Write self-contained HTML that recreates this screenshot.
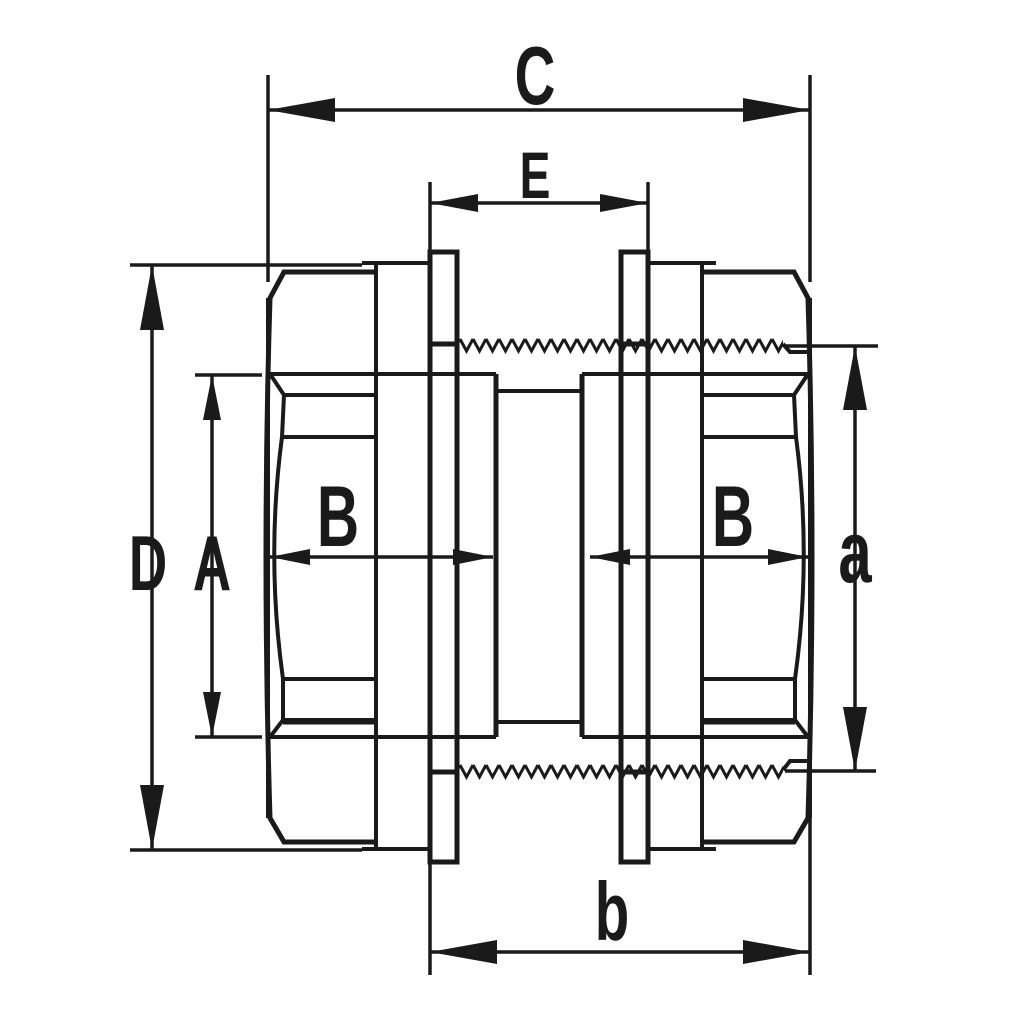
<!DOCTYPE html>
<html><head><meta charset="utf-8"><style>html,body{margin:0;padding:0;background:#fff}svg{display:block}</style></head>
<body>
<svg width="1024" height="1024" viewBox="0 0 1024 1024" xmlns="http://www.w3.org/2000/svg">
<defs>
<pattern id="zt" patternUnits="userSpaceOnUse" x="460" y="336" width="13" height="20">
<polyline points="0,3 6.5,15 13,3" fill="none" stroke="#1a1a1a" stroke-width="3"/>
</pattern>
<pattern id="zb" patternUnits="userSpaceOnUse" x="460" y="762" width="13" height="20">
<polyline points="0,3 6.5,15 13,3" fill="none" stroke="#1a1a1a" stroke-width="3"/>
</pattern>
<g id="half" fill="none" stroke="#1a1a1a" stroke-width="4">
<path d="M376,272 L284,272 L270,298 Q262,557 270,818 L284,842 L376,842" stroke-width="5"/>
<line x1="268" y1="298" x2="268" y2="818"/>
<line x1="268" y1="374" x2="496" y2="374"/>
<line x1="268" y1="737" x2="496" y2="737"/>
<path d="M270,374 L284,395 L376,395"/>
<path d="M284,395 L282,437 L376,437"/>
<path d="M282,437 Q266,557 283,679 L376,679"/>
<path d="M283,679 L283,720 L376,720" />
<line x1="283" y1="722" x2="376" y2="722" stroke-width="5"/>
<path d="M270,737 L283,720"/>
<path d="M362,263 L428,263 M376,263 L376,849 L428,849 M362,849 L376,849"/>
<rect x="430" y="252" width="27" height="610" stroke-width="5"/>
<path d="M430,344 L457,344 M430,772 L457,772" stroke-width="5"/>
<line x1="496" y1="374" x2="496" y2="737" stroke-width="5"/>
</g>
</defs>
<rect width="1024" height="1024" fill="#fff"/>
<use href="#half"/>
<use href="#half" transform="translate(1078,0) scale(-1,1)"/>
<g fill="none" stroke="#1a1a1a" stroke-width="4">
<line x1="496" y1="391" x2="582" y2="391"/>
<line x1="496" y1="722" x2="582" y2="722"/>
<path d="M783,344 L790,352 L808,352"/>
<path d="M783,770 L790,761 L808,761"/>
</g>
<rect x="457" y="336" width="326" height="20" fill="url(#zt)"/>
<rect x="457" y="762" width="326" height="20" fill="url(#zb)"/>
<g stroke="#1a1a1a" stroke-width="3.5" fill="none">
<line x1="268" y1="75" x2="268" y2="282"/><line x1="810" y1="75" x2="810" y2="282"/>
<line x1="268" y1="110" x2="810" y2="110"/>
<line x1="430" y1="182" x2="430" y2="252"/><line x1="648" y1="182" x2="648" y2="252"/>
<line x1="430" y1="203" x2="648" y2="203"/>
<line x1="130" y1="265" x2="362" y2="265"/><line x1="130" y1="850" x2="362" y2="850"/>
<line x1="152" y1="265" x2="152" y2="850"/>
<line x1="195" y1="375" x2="262" y2="375"/><line x1="195" y1="737" x2="262" y2="737"/>
<line x1="212" y1="375" x2="212" y2="737"/>
<line x1="270" y1="557" x2="493" y2="557"/>
<line x1="590" y1="557" x2="808" y2="557"/>
<line x1="785" y1="346" x2="878" y2="346"/><line x1="785" y1="771" x2="876" y2="771"/>
<line x1="855" y1="346" x2="855" y2="771"/>
<line x1="430" y1="862" x2="430" y2="975"/><line x1="810" y1="300" x2="810" y2="975"/>
<line x1="430" y1="952" x2="810" y2="952"/>
</g>
<g fill="#1a1a1a">
<polygon points="268,110 335,98 335,122"/><polygon points="810,110 743,98 743,122"/>
<polygon points="430,203 478,194 478,212"/><polygon points="648,203 600,194 600,212"/>
<polygon points="152,265 140,330 164,330"/><polygon points="152,850 140,785 164,785"/>
<polygon points="212,375 203,420 221,420"/><polygon points="212,737 203,692 221,692"/>
<polygon points="270,557 310,549 310,565"/><polygon points="493,557 453,549 453,565"/>
<polygon points="590,557 630,549 630,565"/><polygon points="808,557 768,549 768,565"/>
<polygon points="855,346 843,410 867,410"/><polygon points="855,771 843,707 867,707"/>
<polygon points="430,952 497,940 497,964"/><polygon points="810,952 743,940 743,964"/>
</g>
<g font-family="'Liberation Sans', sans-serif" font-weight="bold" fill="#1a1a1a" text-anchor="middle">
<text transform="translate(535,104) scale(0.68,1)" font-size="83">C</text>
<text transform="translate(535,198) scale(0.7,1)" font-size="66">E</text>
<text transform="translate(148,590) scale(0.68,1)" font-size="78">D</text>
<text transform="translate(212,590) scale(0.68,1)" font-size="78">A</text>
<text transform="translate(338,546) scale(0.68,1)" font-size="86">B</text>
<text transform="translate(733,546) scale(0.68,1)" font-size="86">B</text>
<text transform="translate(855,582) scale(0.68,1)" font-size="88">a</text>
<text transform="translate(612,940) scale(0.68,1)" font-size="83">b</text>
</g>
</svg>
</body></html>
